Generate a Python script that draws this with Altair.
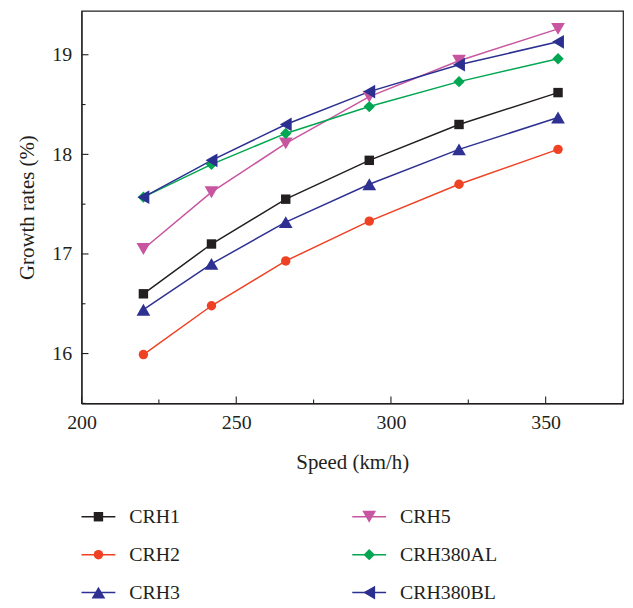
import altair as alt
import pandas as pd

speeds = [220, 242, 266, 293, 322, 354]
series_names = ["CRH1", "CRH2", "CRH3", "CRH5", "CRH380AL", "CRH380BL"]
crh1 = [16.60, 17.10, 17.55, 17.94, 18.30, 18.62]
crh2 = [15.99, 16.48, 16.93, 17.33, 17.70, 18.05]
crh3 = [16.44, 16.90, 17.32, 17.70, 18.05, 18.37]
crh5 = [17.05, 17.62, 18.11, 18.58, 18.94, 19.26]
crh380al = [17.57, 17.90, 18.21, 18.48, 18.73, 18.96]
crh380bl = [17.57, 17.94, 18.30, 18.63, 18.90, 19.13]

colors = ["#231f20", "#ef4123", "#2e3192", "#c8559f", "#00a651", "#2b3090"]
shapes = ["square", "circle", "triangle-up", "triangle-down", "diamond", "triangle-left"]
sizes = [90, 90, 190, 190, 130, 190]

x_major = [200, 250, 300, 350]
x_minor = [225, 275, 325, 375]
y_major = [16, 17, 18, 19]
y_minor = [15.5, 16.5, 17.5, 18.5]

all_values = [crh1, crh2, crh3, crh5, crh380al, crh380bl]
rows = []
for name, vals, sz in zip(series_names, all_values, sizes):
    for s, v in zip(speeds, vals):
        rows.append({"series": name, "speed": s, "value": v, "msize": sz})
df = pd.DataFrame(rows)

FONT = "Liberation Serif"
INK = "#231f20"
W, H = 545, 395

color_scale = alt.Scale(domain=series_names, range=colors)
shape_scale = alt.Scale(domain=series_names, range=shapes)

xs = alt.Scale(domain=[200, 375], nice=False, zero=False)
ys = alt.Scale(domain=[15.5, 19.44], nice=False, zero=False)

x_enc = alt.X("speed:Q", scale=xs, axis=alt.Axis(
    values=x_major, ticks=False, grid=False, title="Speed (km/h)", labelFlush=False,
    labelFont=FONT, labelFontSize=20, labelColor=INK, labelPadding=9,
    titleFont=FONT, titleFontSize=21, titleFontWeight="normal", titleColor=INK,
    titlePadding=20, domainColor=INK, domainWidth=1.2, format="d"))
y_enc = alt.Y("value:Q", scale=ys, axis=alt.Axis(
    values=y_major, ticks=False, grid=False, title="Growth rates (%)", labelFlush=False,
    labelFont=FONT, labelFontSize=20, labelColor=INK, labelPadding=10,
    titleFont=FONT, titleFontSize=21, titleFontWeight="normal", titleColor=INK,
    titlePadding=14, domainColor=INK, domainWidth=1.2, format="d"))

base = alt.Chart(df)
lines = base.mark_line(strokeWidth=1.5).encode(
    x=x_enc, y=y_enc,
    color=alt.Color("series:N", scale=color_scale, legend=None),
)
points = base.mark_point(filled=True, opacity=1).encode(
    x=alt.X("speed:Q", scale=xs), y=alt.Y("value:Q", scale=ys),
    color=alt.Color("series:N", scale=color_scale, legend=None),
    shape=alt.Shape("series:N", scale=shape_scale, legend=None),
    size=alt.Size("msize:Q", scale=None, legend=None),
)

ymaj = alt.Chart(pd.DataFrame({"value": y_major})).mark_rule(color=INK, strokeWidth=1.1).encode(
    y=alt.Y("value:Q", scale=ys), x=alt.value(0), x2=alt.value(7))
ymin = alt.Chart(pd.DataFrame({"value": y_minor})).mark_rule(color=INK, strokeWidth=1.1).encode(
    y=alt.Y("value:Q", scale=ys), x=alt.value(0), x2=alt.value(4))
xmaj = alt.Chart(pd.DataFrame({"speed": x_major})).mark_rule(color=INK, strokeWidth=1.1).encode(
    x=alt.X("speed:Q", scale=xs), y=alt.value(H), y2=alt.value(H - 7))
xmin = alt.Chart(pd.DataFrame({"speed": x_minor})).mark_rule(color=INK, strokeWidth=1.1).encode(
    x=alt.X("speed:Q", scale=xs), y=alt.value(H), y2=alt.value(H - 4))

main = alt.layer(lines, points, ymaj, ymin, xmaj, xmin).properties(
    width=W, height=H,
    view=alt.ViewBackground(stroke=INK, strokeWidth=1.2),
)

leg_df = pd.DataFrame({
    "series": series_names,
    "col": [i // 3 for i in range(len(series_names))],
    "row": [i % 3 for i in range(len(series_names))],
    "msize": sizes,
})
lx = alt.Scale(domain=[0, 2], nice=False, zero=False)
ly = alt.Scale(domain=[2.25, -0.5], nice=False, zero=False)
lbase = alt.Chart(leg_df).transform_calculate(
    x1="datum.col", x2="datum.col + 0.125", xm="datum.col + 0.0625", xt="datum.col + 0.176")
lrule = lbase.mark_rule(strokeWidth=1.5).encode(
    x=alt.X("x1:Q", scale=lx, axis=None), x2="x2:Q",
    y=alt.Y("row:Q", scale=ly, axis=None),
    color=alt.Color("series:N", scale=color_scale, legend=None))
lpts = lbase.mark_point(filled=True, opacity=1).encode(
    x=alt.X("xm:Q", scale=lx, axis=None), y=alt.Y("row:Q", scale=ly, axis=None),
    color=alt.Color("series:N", scale=color_scale, legend=None),
    shape=alt.Shape("series:N", scale=shape_scale, legend=None),
    size=alt.Size("msize:Q", scale=None, legend=None))
ltxt = lbase.mark_text(align="left", baseline="middle", font=FONT, fontSize=20, color=INK).encode(
    x=alt.X("xt:Q", scale=lx, axis=None), y=alt.Y("row:Q", scale=ly, axis=None),
    text="series:N")
legend = alt.layer(lrule, lpts, ltxt).properties(
    width=W, height=105,
    view=alt.ViewBackground(stroke="transparent"),
)

chart = alt.vconcat(main, legend, spacing=23).properties(
    padding={"left": 8, "top": 0, "right": 0, "bottom": 0},
    background="white",
)

chart.save("out.html", embed_options={"renderer": "svg", "actions": False})
